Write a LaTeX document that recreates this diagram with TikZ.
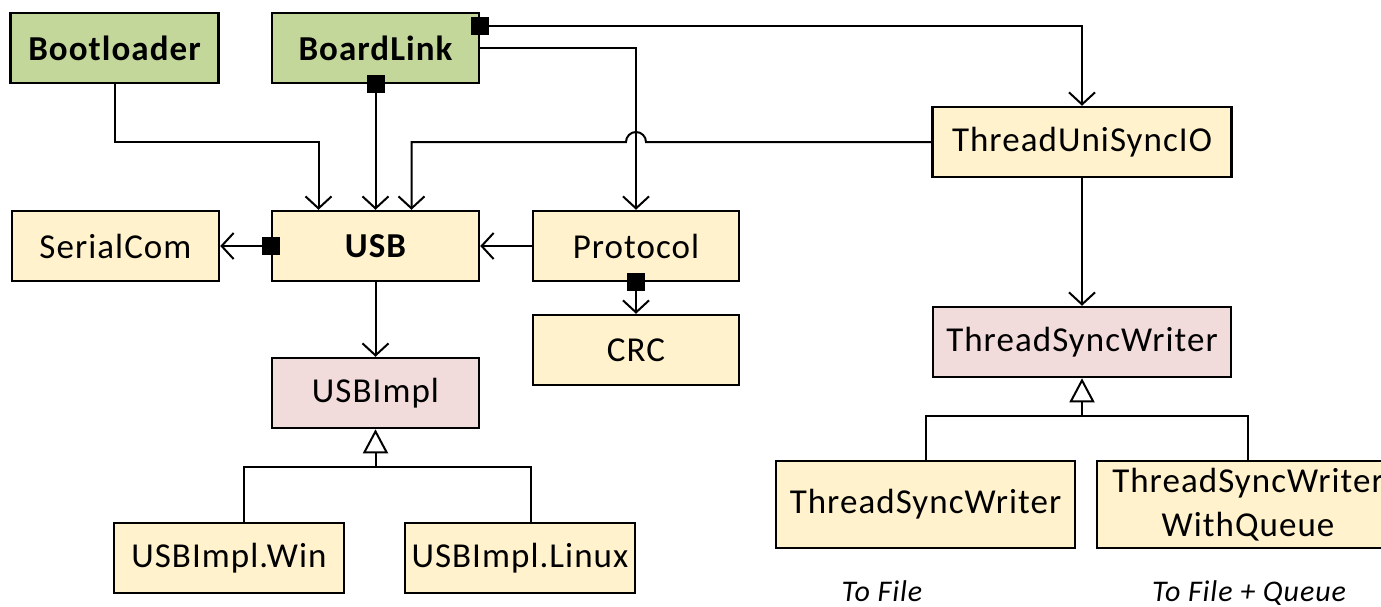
\documentclass[tikz,border=0pt]{standalone}
\usepackage{fontspec}
\setmainfont{Carlito}[LetterSpace=3]
\usetikzlibrary{arrows.meta,calc}
\definecolor{greenbox}{HTML}{C4D79B}
\definecolor{yellowbox}{HTML}{FFF2CC}
\definecolor{pinkbox}{HTML}{F2DCDB}

\begin{document}
\begin{tikzpicture}[x=1pt,y=-1pt,
  box/.style={draw=black, line width=2.5pt, inner sep=0pt, align=center,
              minimum height=70pt, font=\fontsize{35}{44}\selectfont},
  cls/.style={box, fill=yellowbox},
  mod/.style={box, fill=greenbox, font=\fontsize{35}{44}\selectfont\bfseries},
  abst/.style={box, fill=pinkbox},
  dep/.style={line width=2pt, -{Straight Barb[length=12pt,width=26pt]}},
  gen/.style={line width=2pt, -{Triangle[length=24pt,width=25pt,fill=white]}},
  link/.style={line width=2pt},
  own/.style={fill=black, inner sep=0pt, minimum size=18pt},
  note/.style={font=\fontsize{30}{34}\selectfont\itshape, anchor=base}
]
\useasboundingbox (0,0) rectangle (1381,606);

% modules
\node[mod, minimum width=208pt] (boot) at (114.5,48) {Bootloader};
\node[mod, minimum width=207pt] (bl)   at (375.5,48) {BoardLink};

% classes
\node[cls, minimum width=207pt] (serial) at (115.5,246) {SerialCom};
\node[cls, minimum width=207pt, font=\fontsize{35}{44}\selectfont\bfseries] (usb) at (375.5,246) {USB};
\node[cls, minimum width=206pt] (proto) at (636,246) {Protocol};
\node[cls, minimum width=206pt] (crc)   at (636,350) {CRC};
\node[abst, minimum width=207pt] (usbimpl) at (375.5,393) {USBImpl};
\node[cls, minimum width=230pt] (win)   at (229,558) {USBImpl.Win};
\node[cls, minimum width=230pt] (linux) at (520,558) {USBImpl.Linux};

\node[cls, minimum width=299pt] (tusio) at (1082,142) {ThreadUniSyncIO};
\node[abst, minimum width=298pt] (tsw)  at (1082,342) {ThreadSyncWriter};
\node[cls, minimum width=299pt, minimum height=87pt] (tswf) at (925.5,504.5) {ThreadSyncWriter};
\node[cls, minimum width=302pt, minimum height=87pt] (tswq) at (1248,504.5) {ThreadSyncWriter\\WithQueue};

\node[note] (nf) at (882,601) {To File};
\node[note] (nq) at (1249,601) {To File + Queue};

% helper points
\coordinate (bootTurn) at (115,142);
\coordinate (usbA) at ($(usb.north)+(-57,0)$);
\coordinate (usbC) at ($(usb.north)+(36,0)$);
\coordinate (blTop) at ($(bl.north east)+(0,14)$);
\coordinate (hopR) at (646,142);
\coordinate (jUsb) at (375.5,467);
\coordinate (winUp) at ($(win.north)+(15,0)$);
\coordinate (linuxUp) at ($(linux.north)+(11,0)$);
\coordinate (jTsw) at (1082,416);

% dependencies
\draw[dep] (boot.south) |- (bootTurn) -| (usbA);
\draw[dep] (bl.south) -- (usb.north);
\draw[dep] (blTop) -| (tusio.north);
\draw[dep] (bl.east) -| (proto.north);
\draw[dep] (tusio.west) -- (hopR) arc[start angle=0, end angle=-180, radius=10] -| (usbC);
\draw[dep] (usb.west) -- (serial.east);
\draw[dep] (proto.west) -- (usb.east);
\draw[dep] (proto.south) -- (crc.north);
\draw[dep] (usb.south) -- (usbimpl.north);
\draw[dep] (tusio.south) -- (tsw.north);

% ownership markers
\node[own] (o1) at (bl.south) {};
\node[own] (o2) at (blTop) {};
\node[own] (o3) at (usb.west) {};
\node[own] (o4) at (proto.south) {};

% generalisations
\draw[link] (winUp) |- (jUsb) -| (linuxUp);
\draw[gen] (jUsb) -- (usbimpl.south);
\draw[link] (tswf.north) |- (jTsw) -| (tswq.north);
\draw[gen] (jTsw) -- (tsw.south);
\end{tikzpicture}
\end{document}
